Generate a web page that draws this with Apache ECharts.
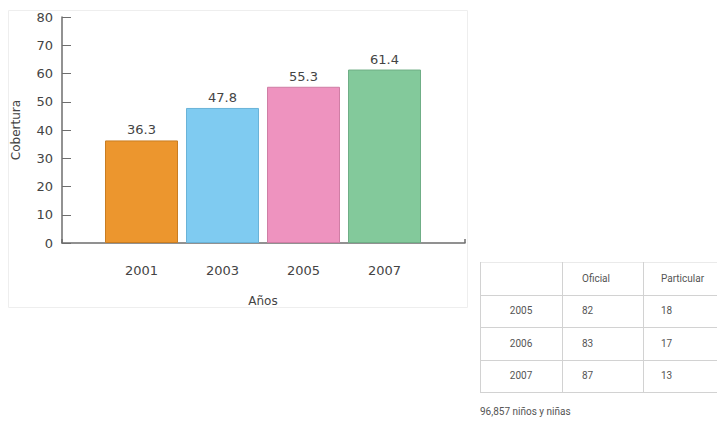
<!DOCTYPE html>
<html>
<head>
<meta charset="utf-8">
<script src="https://cdn.jsdelivr.net/npm/echarts@6/dist/echarts.min.js"></script>
<style>
  html, body { margin: 0; padding: 0; background: #fff; }
  #chart { width: 717px; height: 421px; }
</style>
</head>
<body>
<div id="chart"></div>
<script>
// Cobertura por año
const years = ['2001', '2003', '2005', '2007'];
const coverage = [36.3, 47.8, 55.3, 61.4];

// Tabla: distribución oficial / particular
const tableHeader = ['', 'Oficial', 'Particular'];
const tableYears = ['2005', '2006', '2007'];
const oficial = [82, 83, 87];
const particular = [18, 17, 13];
const tableNote = '96,857 niños y niñas';

const barColors = ['#EC962E', '#7FCBF1', '#EE93BF', '#83C99B'];
const barBorders = ['#C97D22', '#6AB3D8', '#CF7EA5', '#6FAE86'];

const chart = echarts.init(document.getElementById('chart'), null, { renderer: 'svg' });

// Table drawn with graphic elements
const tbl = { x0: 480, x1: 562, x2: 643, xEnd: 717, y0: 262, rowH: 32.5 };
const lineColor = '#D2D2D2';
const txtStyle = { fontFamily: 'Roboto', fontSize: 10, fill: '#555' };
const graphics = [];

// chart panel outline
graphics.push({
  type: 'rect', shape: { x: 8.5, y: 10.5, width: 459, height: 297 },
  style: { fill: 'none', stroke: '#EEEEEE', lineWidth: 1 }, silent: true
});

const nRows = tableYears.length + 1;
for (let i = 0; i <= nRows; i++) {
  const y = Math.round(tbl.y0 + i * tbl.rowH) + 0.5;
  graphics.push({ type: 'line', shape: { x1: tbl.x0, y1: y, x2: tbl.xEnd, y2: y },
    style: { stroke: i === 0 ? '#EAEAEA' : lineColor, lineWidth: 1 }, silent: true });
}
[tbl.x0, tbl.x1, tbl.x2].forEach(x => {
  graphics.push({ type: 'line', shape: { x1: x + 0.5, y1: tbl.y0, x2: x + 0.5, y2: tbl.y0 + nRows * tbl.rowH },
    style: { stroke: lineColor, lineWidth: 1 }, silent: true });
});
// header
graphics.push({ type: 'text', x: tbl.x1 + 20, y: tbl.y0 + tbl.rowH / 2,
  style: Object.assign({ text: tableHeader[1], verticalAlign: 'middle', align: 'left' }, txtStyle) });
graphics.push({ type: 'text', x: tbl.x2 + 18, y: tbl.y0 + tbl.rowH / 2,
  style: Object.assign({ text: tableHeader[2], verticalAlign: 'middle', align: 'left' }, txtStyle) });
// rows
tableYears.forEach((yr, i) => {
  const cy = tbl.y0 + (i + 1.5) * tbl.rowH;
  graphics.push({ type: 'text', x: (tbl.x0 + tbl.x1) / 2, y: cy,
    style: Object.assign({ text: yr, verticalAlign: 'middle', align: 'center' }, txtStyle) });
  graphics.push({ type: 'text', x: tbl.x1 + 20, y: cy,
    style: Object.assign({ text: String(oficial[i]), verticalAlign: 'middle', align: 'left' }, txtStyle) });
  graphics.push({ type: 'text', x: tbl.x2 + 18, y: cy,
    style: Object.assign({ text: String(particular[i]), verticalAlign: 'middle', align: 'left' }, txtStyle) });
});
graphics.push({ type: 'text', x: tbl.x0, y: 411,
  style: Object.assign({ text: tableNote, verticalAlign: 'middle', align: 'left' }, txtStyle) });

const axisGray = '#6E6E6E';
const labelFont = { fontFamily: 'DejaVu Sans', fontSize: 13, color: '#444' };

chart.setOption({
  animation: false,
  backgroundColor: '#fff',
  graphic: graphics,
  grid: [
    { left: 62, top: 17, width: 403, height: 226 },
    { left: 101, top: 17, width: 324, height: 226 }
  ],
  xAxis: [
    {
      type: 'value', gridIndex: 0, min: 0, max: 1, interval: 1,
      axisLine: { show: true, lineStyle: { color: axisGray, width: 1.5 } },
      axisTick: { show: true, inside: true, length: 4, lineStyle: { color: axisGray, width: 1.5 } },
      axisLabel: { show: false }, splitLine: { show: false }
    },
    {
      type: 'category', gridIndex: 1, data: years,
      axisLine: { show: false }, axisTick: { show: false },
      axisLabel: Object.assign({ margin: 21 }, labelFont),
      name: 'Años', nameLocation: 'middle', nameGap: 52,
      nameTextStyle: { fontFamily: 'DejaVu Sans', fontSize: 12, color: '#444' }
    }
  ],
  yAxis: [
    {
      type: 'value', gridIndex: 0, min: 0, max: 80, interval: 10,
      axisLine: { show: true, lineStyle: { color: axisGray, width: 1.5 } },
      axisTick: { show: true, inside: true, length: 9, lineStyle: { color: axisGray, width: 1 } },
      axisLabel: Object.assign({ margin: 9 }, labelFont),
      splitLine: { show: false },
      name: 'Cobertura', nameLocation: 'middle', nameRotate: 90, nameGap: 40,
      nameTextStyle: { fontFamily: 'DejaVu Sans', fontSize: 12, color: '#444' }
    },
    {
      type: 'value', gridIndex: 1, min: 0, max: 80, interval: 10, show: false
    }
  ],
  series: [{
    type: 'bar', xAxisIndex: 1, yAxisIndex: 1,
    barWidth: 73,
    data: coverage.map((v, i) => ({
      value: v,
      itemStyle: { color: barColors[i], borderColor: barBorders[i], borderWidth: 1 }
    })),
    label: {
      show: true, position: 'top', distance: 4,
      fontFamily: 'DejaVu Sans', fontSize: 13, color: '#444'
    }
  }]
});
</script>
</body>
</html>
